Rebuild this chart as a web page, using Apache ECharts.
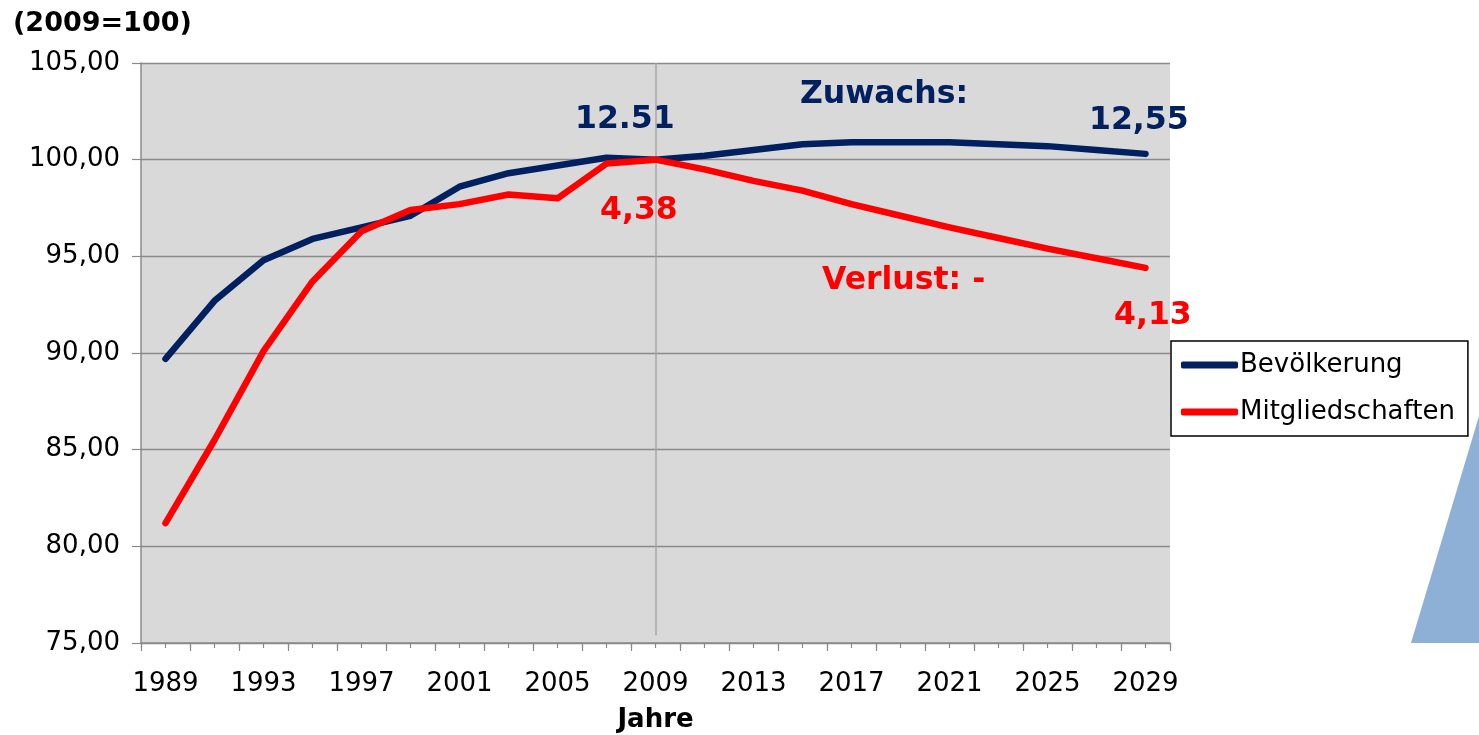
<!DOCTYPE html>
<html>
<head>
<meta charset="utf-8">
<script src="https://cdn.jsdelivr.net/npm/echarts@6/dist/echarts.min.js"></script>
<style>
  html, body { margin: 0; padding: 0; background: #fff; }
  #chart { width: 1479px; height: 735px; }
</style>
</head>
<body>
<div id="chart"></div>
<script>
const years = [1989, 1991, 1993, 1995, 1997, 1999, 2001, 2003, 2005, 2007, 2009,
  2011, 2013, 2015, 2017, 2019, 2021, 2023, 2025, 2027, 2029];
const bevoelkerung = [89.7, 92.7, 94.8, 95.9, 96.5, 97.1, 98.6, 99.3, 99.7, 100.1, 100.0,
  100.2, 100.5, 100.8, 100.9, 100.9, 100.9, 100.8, 100.7, 100.5, 100.3];
const mitgliedschaften = [81.2, 85.5, 90.1, 93.7, 96.3, 97.4, 97.7, 98.2, 98.0, 99.8, 100.0,
  99.5, 98.9, 98.4, 97.7, 97.1, 96.5, 95.95, 95.4, 94.9, 94.4];
const baseYear = 2009;

const font = "'DejaVu Sans', Verdana, sans-serif";
const blue = "#002060";
const red = "#ff0000";
const gray = "#8a8a8a";

function pairs(values) {
  return years.map((y, i) => [y, values[i]]);
}

function note(text, x, y, color) {
  return {
    type: "text",
    left: x,
    top: y,
    style: { text: text, fill: color, font: "bold 31.5px " + font },
  };
}

const chart = echarts.init(document.getElementById("chart"));

chart.setOption({
  animation: false,
  grid: {
    left: 141, top: 63, right: 309, bottom: 92,
    outerBoundsMode: "none",
    show: true, backgroundColor: "#d9d9d9", borderWidth: 0,
  },
  legend: {
    orient: "vertical",
    left: 1171,
    top: 341,
    padding: [11, 13, 11, 10],
    itemGap: 21,
    itemWidth: 57,
    itemHeight: 7,
    icon: "roundRect",
    backgroundColor: "#fff",
    borderColor: "#000",
    borderWidth: 1.5,
    borderRadius: 0,
    textStyle: { fontFamily: font, fontSize: 26, color: "#000", lineHeight: 26, padding: [0, 0, 0, -3] },
    data: ["Bevölkerung", "Mitgliedschaften"],
  },
  xAxis: [
    {
      type: "value",
      position: "bottom",
      min: 1988,
      max: 2030,
      interval: 1,
      name: "Jahre",
      nameLocation: "middle",
      nameGap: 64,
      nameTextStyle: { fontFamily: font, fontSize: 26, fontWeight: "bold", color: "#000" },
      axisLine: { lineStyle: { color: gray, width: 1.5 } },
      axisTick: { show: true, length: 5, lineStyle: { color: gray, width: 1.2 } },
      axisLabel: {
        margin: 28,
        fontFamily: font,
        fontSize: 26,
        color: "#000",
        showMinLabel: true,
        showMaxLabel: true,
        formatter: (v) => ((v - 1989) % 4 === 0 ? String(v) : ""),
      },
      splitLine: { show: false },
    },
    {
      // longer ticks at the even years
      type: "value",
      position: "bottom",
      offset: 0,
      min: 1988,
      max: 2030,
      interval: 2,
      axisLine: { show: false },
      axisTick: { show: true, length: 8, lineStyle: { color: gray, width: 1.2 } },
      axisLabel: { show: false },
      splitLine: { show: false },
    },
  ],
  yAxis: {
    type: "value",
    min: 75,
    max: 105,
    interval: 5,
    axisLine: { show: true, lineStyle: { color: gray, width: 1.5 } },
    axisTick: { show: true, length: 9, lineStyle: { color: gray, width: 1.2 } },
    axisLabel: {
      margin: 21,
      fontFamily: font,
      fontSize: 26,
      color: "#000",
      formatter: (v) => v.toFixed(2).replace(".", ","),
    },
    splitLine: { show: true, lineStyle: { color: gray, width: 1.3 } },
  },
  series: [
    {
      name: "Bevölkerung",
      type: "line",
      data: pairs(bevoelkerung),
      symbol: "none",
      color: blue,
      lineStyle: { width: 6.5, color: blue, cap: "round", join: "round" },
      z: 3,
    },
    {
      name: "Mitgliedschaften",
      type: "line",
      data: pairs(mitgliedschaften),
      symbol: "none",
      color: red,
      lineStyle: { width: 6.5, color: red, cap: "round", join: "round" },
      z: 4,
      markLine: {
        silent: true,
        symbol: "none",
        label: { show: false },
        lineStyle: { color: "#a6a6a6", width: 1.5, type: "solid" },
        z: 1,
        data: [[{ coord: [baseYear, 105] }, { coord: [baseYear, 75.4] }]],
      },
    },
  ],
  graphic: [
    {
      type: "polygon",
      z: -1,
      shape: { points: [[1411, 643], [1479, 416], [1479, 643]] },
      style: { fill: "#8fb0d6" },
    },
    {
      type: "text",
      left: 13,
      top: 10,
      style: { text: "(2009=100)", fill: "#000", font: "bold 27px " + font },
    },
    note("12.51", 575, 104, blue),
    note("Zuwachs:", 800, 79, blue),
    note("12,55", 1089, 105, blue),
    note("4,38", 600, 195, red),
    note("Verlust: -", 822, 265, red),
    note("4,13", 1114, 300, red),
  ],
});
</script>
</body>
</html>
